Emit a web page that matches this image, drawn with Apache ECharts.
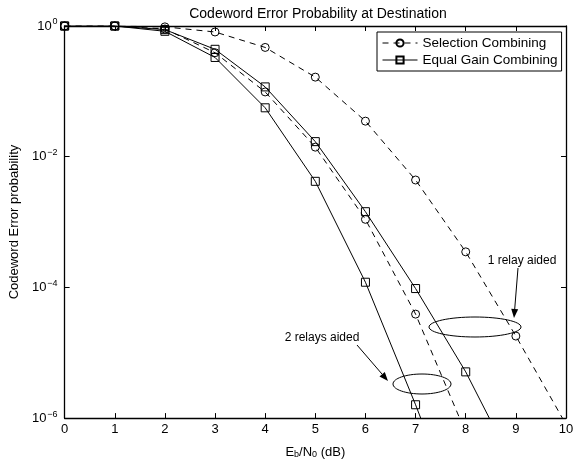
<!DOCTYPE html>
<html>
<head>
<meta charset="utf-8">
<script src="https://cdn.jsdelivr.net/npm/echarts@6/dist/echarts.min.js"></script>
<style>
    html, body { margin: 0; padding: 0; background: #fff; }
    #main { width: 583px; height: 464px; }
</style>
</head>
<body>
<div id="main"></div>
<script>
// Eb/N0 in dB
var snr = [0, 1, 2, 3, 4, 5, 6, 7, 8, 9, 10];

// selection combining, 1 relay / 2 relays
var sc1 = [1, 1, 0.97, 0.81, 0.47, 0.165, 0.035, 4.4e-3, 3.5e-4, 1.8e-5, 8e-7];
var sc2 = [1, 1, 0.9, 0.39, 0.098, 0.014, 1.1e-3, 3.9e-5, 6e-7];

// equal gain combining, 1 relay / 2 relays
var egc1 = [1, 1, 0.88, 0.44, 0.117, 0.017, 1.44e-3, 9.6e-5, 5.1e-6, 1.6e-7];
var egc2 = [1, 1, 0.83, 0.33, 0.056, 4.2e-3, 1.2e-4, 1.6e-6, 1.6e-8];

var FONT = 'Liberation Sans, Arial, Helvetica, sans-serif';

function pairs(ys) {
    var out = [];
    for (var i = 0; i < ys.length; i++) {
        out.push([snr[i], ys[i]]);
    }
    return out;
}

function makeSeries(name, ys, symbol, dashed) {
    return {
        name: name,
        type: 'line',
        data: pairs(ys),
        symbol: symbol,
        symbolSize: 8,
        clip: true,
        animation: false,
        lineStyle: {color: '#000', width: 1, type: dashed ? [6, 5] : 'solid'},
        itemStyle: {color: 'rgba(0,0,0,0)', borderColor: '#000', borderWidth: 1},
        emphasis: {disabled: true}
    };
}

function supLabel(value) {
    var e = Math.round(Math.log10(value));
    return '10{sup|' + (e < 0 ? '\u2212' + (-e) : e) + '}';
}

// arrow: line plus a small filled head
function arrow(x1, y1, x2, y2) {
    var a = Math.atan2(y2 - y1, x2 - x1);
    var L = 9, W = 3.5;
    var bx = x2 - L * Math.cos(a), by = y2 - L * Math.sin(a);
    return [
        {type: 'line', shape: {x1: x1, y1: y1, x2: bx, y2: by}, style: {stroke: '#000', lineWidth: 1}},
        {type: 'polygon', shape: {points: [[x2, y2],
            [bx + W * Math.sin(a), by - W * Math.cos(a)],
            [bx - W * Math.sin(a), by + W * Math.cos(a)]]}, style: {fill: '#000'}}
    ];
}

var graphics = [
    {type: 'ellipse', shape: {cx: 475, cy: 327, rx: 46, ry: 10}, style: {fill: 'none', stroke: '#000', lineWidth: 1}, z: 10},
    {type: 'ellipse', shape: {cx: 422, cy: 384, rx: 29, ry: 10}, style: {fill: 'none', stroke: '#000', lineWidth: 1}, z: 10},
    {type: 'text', x: 522, y: 261, style: {text: '1 relay aided', font: '12px ' + FONT, fill: '#000', align: 'center', verticalAlign: 'middle'}, z: 10},
    {type: 'text', x: 322, y: 338, style: {text: '2 relays aided', font: '12px ' + FONT, fill: '#000', align: 'center', verticalAlign: 'middle'}, z: 10}
].concat(arrow(518, 268, 514, 318)).concat(arrow(357, 345, 388, 381));

var axisLine = {show: true, onZero: false, lineStyle: {color: '#000', width: 1.3}};
var tick = {show: true, inside: true, length: 5, lineStyle: {color: '#000', width: 1}};

var option = {
    backgroundColor: '#fff',
    animation: false,
    title: {
        text: 'Codeword Error Probability at Destination',
        left: 313, top: 2, textAlign: 'center',
        textStyle: {fontFamily: FONT, fontSize: 14, fontWeight: 'normal', color: '#000'}
    },
    legend: {
        data: ['Selection Combining', 'Equal Gain Combining'],
        orient: 'vertical',
        left: 377, top: 32,
        padding: [4, 4, 4, 5],
        itemGap: 3,
        itemWidth: 35, itemHeight: 9,
        backgroundColor: '#fff',
        borderColor: '#000', borderWidth: 1, borderRadius: 0,
        lineStyle: {width: 1},
        textStyle: {fontFamily: FONT, fontSize: 13.5, color: '#000'},
        selectedMode: false
    },
    grid: {left: 61, right: 17, top: 26, bottom: 40, containLabel: false},
    xAxis: [{
        type: 'value', min: 0, max: 10, interval: 1,
        axisLine: axisLine, axisTick: tick, splitLine: {show: false},
        axisLabel: {color: '#000', fontFamily: FONT, fontSize: 13, margin: 5},
        name: 'E{sub|b}/N{sub|0} (dB)', nameLocation: 'middle', nameGap: 22,
        nameTextStyle: {
            fontFamily: FONT, fontSize: 13, color: '#000',
            rich: {sub: {fontFamily: FONT, fontSize: 9, color: '#000', lineHeight: 9, verticalAlign: 'bottom', padding: [9, 0, 0, 0]}}
        }
    }, {
        type: 'value', min: 0, max: 10, interval: 1, position: 'top',
        axisLine: axisLine, axisTick: tick, axisLabel: {show: false}, splitLine: {show: false}
    }],
    yAxis: [{
        type: 'log', logBase: 10, min: 1e-6, max: 1, interval: 2,
        axisLine: axisLine, axisTick: tick, splitLine: {show: false}, minorTick: {show: false},
        axisLabel: {
            formatter: supLabel, color: '#000', fontFamily: FONT, fontSize: 13, margin: 7,
            rich: {sup: {fontFamily: FONT, fontSize: 9, color: '#000', verticalAlign: 'top', padding: [0, 0, 8, 1]}}
        },
        name: 'Codeword Error probability', nameLocation: 'middle', nameGap: 32,
        nameTextStyle: {fontFamily: FONT, fontSize: 13, color: '#000'}
    }, {
        type: 'log', logBase: 10, min: 1e-6, max: 1, interval: 2, position: 'right',
        axisLine: axisLine, axisTick: tick, axisLabel: {show: false}, splitLine: {show: false}
    }],
    series: [
        makeSeries('Selection Combining', sc1, 'circle', true),
        makeSeries('Selection Combining', sc2, 'circle', true),
        makeSeries('Equal Gain Combining', egc1, 'rect', false),
        makeSeries('Equal Gain Combining', egc2, 'rect', false)
    ],
    graphic: graphics
};

var myChart = echarts.init(document.getElementById('main'), null, {renderer: 'canvas'});
myChart.setOption(option);
</script>
</body>
</html>
